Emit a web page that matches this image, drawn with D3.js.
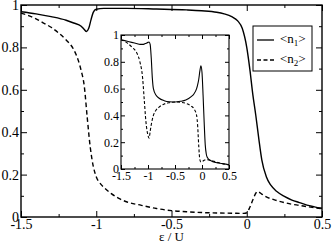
<!DOCTYPE html>
<html><head><meta charset="utf-8">
<script src="https://cdn.jsdelivr.net/npm/d3@7"></script>
<style>body{margin:0;background:#fff}svg{display:block}text{font-family:"Liberation Serif","Times New Roman",serif}</style>
</head><body><svg id="c" width="332" height="244"></svg>
<script>
// ---------- main plot data ----------
const mainEpsN1 = [-1.5,-1.4,-1.3,-1.2,-1.15,-1.1,-1.08,-1.065,-1.05,-1.035,-1.02,-1.0,-0.95,-0.8,-0.6,-0.4,-0.3,-0.2,-0.15,-0.1,-0.06,-0.03,0.0,0.02,0.04,0.06,0.08,0.1,0.13,0.16,0.2,0.25,0.3,0.35,0.4,0.45,0.5];
const mainN1 = [0.968,0.958,0.945,0.928,0.915,0.9,0.885,0.875,0.89,0.93,0.965,0.98,0.984,0.984,0.981,0.977,0.973,0.966,0.958,0.945,0.925,0.89,0.8,0.7,0.58,0.48,0.37,0.27,0.19,0.15,0.12,0.097,0.08,0.068,0.056,0.048,0.041];
const mainEpsN2 = [-1.5,-1.45,-1.4,-1.35,-1.3,-1.25,-1.2,-1.15,-1.12,-1.1,-1.08,-1.06,-1.04,-1.02,-1.0,-0.97,-0.95,-0.9,-0.85,-0.8,-0.7,-0.6,-0.5,-0.4,-0.3,-0.2,-0.1,-0.02,0.0,0.02,0.04,0.06,0.07,0.08,0.1,0.13,0.18,0.25,0.3,0.35,0.4,0.45,0.5];
const mainN2 = [0.962,0.95,0.935,0.915,0.895,0.868,0.835,0.79,0.74,0.69,0.62,0.47,0.33,0.24,0.19,0.155,0.14,0.11,0.088,0.072,0.055,0.04,0.03,0.025,0.021,0.019,0.018,0.017,0.02,0.045,0.08,0.112,0.12,0.118,0.108,0.095,0.082,0.068,0.06,0.055,0.049,0.044,0.039];

// ---------- inset data ----------
const insetEpsN1 = [-1.5,-1.4,-1.3,-1.2,-1.15,-1.1,-1.07,-1.04,-1.0,-0.98,-0.96,-0.94,-0.92,-0.9,-0.85,-0.8,-0.7,-0.6,-0.5,-0.4,-0.3,-0.2,-0.15,-0.1,-0.08,-0.06,-0.04,-0.02,0.0,0.02,0.04,0.06,0.08,0.1,0.15,0.2,0.3,0.4,0.5];
const insetN1 = [0.965,0.955,0.945,0.935,0.93,0.93,0.932,0.937,0.945,0.948,0.93,0.83,0.68,0.6,0.55,0.53,0.51,0.502,0.5,0.505,0.515,0.54,0.56,0.6,0.63,0.67,0.73,0.77,0.72,0.55,0.35,0.18,0.11,0.085,0.065,0.055,0.045,0.038,0.032];
const insetEpsN2 = [-1.5,-1.4,-1.3,-1.2,-1.15,-1.1,-1.07,-1.04,-1.0,-0.98,-0.96,-0.94,-0.92,-0.9,-0.85,-0.8,-0.7,-0.6,-0.5,-0.4,-0.3,-0.2,-0.15,-0.1,-0.08,-0.06,-0.04,-0.02,0.0,0.04,0.08,0.12,0.2,0.3,0.4,0.5];
const insetN2 = [0.965,0.945,0.91,0.86,0.8,0.68,0.52,0.36,0.25,0.23,0.28,0.33,0.37,0.4,0.44,0.46,0.485,0.495,0.5,0.498,0.49,0.47,0.45,0.4,0.32,0.17,0.07,0.052,0.055,0.065,0.07,0.068,0.06,0.048,0.038,0.03];

// ---------- ticks / labels ----------
const xMajor = [-1.5,-1,-0.5,0,0.5];
const xMinor = [-1.25,-0.75,-0.25,0.25];
const yMajor = [0,0.2,0.4,0.6,0.8,1];
const yMinor = [0.1,0.3,0.5,0.7,0.9];
const legendLabels = ["n1","n2"];
const xTitle = "ε / U";

const SERIF = '"Liberation Serif","Times New Roman",serif';
const svg = d3.select("#c");
const fmt = d => String(d);

function panel(g, box, o) {
  const x = d3.scaleLinear().domain([-1.5,0.5]).range([box.x0, box.x1]);
  const y = d3.scaleLinear().domain([0,1]).range([box.y1, box.y0]);
  g.append("rect").attr("x",box.x0).attr("y",box.y0)
    .attr("width",box.x1-box.x0).attr("height",box.y1-box.y0)
    .attr("fill","#fff").attr("stroke","none");

  const line = d3.line().x(d=>x(d[0])).y(d=>y(d[1])).curve(d3.curveMonotoneX);
  g.append("path").datum(o.e1.map((e,i)=>[e,o.n1[i]]))
    .attr("d",line).attr("fill","none").attr("stroke","#000").attr("stroke-width",o.lw);
  g.append("path").datum(o.e2.map((e,i)=>[e,o.n2[i]]))
    .attr("d",line).attr("fill","none").attr("stroke","#000").attr("stroke-width",o.lw)
    .attr("stroke-dasharray",o.dash);

  const style = sel => {
    sel.attr("font-family",SERIF).attr("font-size",o.fs);
    sel.select(".domain").remove();
    sel.selectAll("line").attr("stroke","#000").attr("stroke-width",1);
    sel.selectAll("text").style("font-family",SERIF)
      .style("font-size",o.fs+"px").attr("fill","#000");
  };
  const T = o.tick, t = o.tick/2;
  g.append("g").attr("transform",`translate(0,${box.y1})`)
    .call(d3.axisBottom(x).tickValues(xMajor).tickSize(-T).tickPadding(o.pad).tickFormat(fmt)).call(style);
  g.append("g").attr("transform",`translate(0,${box.y1})`)
    .call(d3.axisBottom(x).tickValues(xMinor).tickSize(-t).tickFormat("")).call(style);
  g.append("g").attr("transform",`translate(0,${box.y0})`)
    .call(d3.axisTop(x).tickValues(xMajor).tickSize(-T).tickFormat("")).call(style);
  g.append("g").attr("transform",`translate(0,${box.y0})`)
    .call(d3.axisTop(x).tickValues(xMinor).tickSize(-t).tickFormat("")).call(style);
  g.append("g").attr("transform",`translate(${box.x0},0)`)
    .call(d3.axisLeft(y).tickValues(yMajor).tickSize(-T).tickPadding(o.pad).tickFormat(fmt)).call(style);
  g.append("g").attr("transform",`translate(${box.x0},0)`)
    .call(d3.axisLeft(y).tickValues(yMinor).tickSize(-t).tickFormat("")).call(style);
  g.append("g").attr("transform",`translate(${box.x1},0)`)
    .call(d3.axisRight(y).tickValues(yMajor).tickSize(-T).tickFormat("")).call(style);
  g.append("g").attr("transform",`translate(${box.x1},0)`)
    .call(d3.axisRight(y).tickValues(yMinor).tickSize(-t).tickFormat("")).call(style);

  g.append("rect").attr("x",box.x0).attr("y",box.y0)
    .attr("width",box.x1-box.x0).attr("height",box.y1-box.y0)
    .attr("fill","none").attr("stroke","#000").attr("stroke-width",o.fw);
  return {x,y};
}

const mainBox = {x0:21, x1:322, y0:5, y1:217};
const gm = svg.append("g");
panel(gm, mainBox, {e1:mainEpsN1,n1:mainN1,e2:mainEpsN2,n2:mainN2,lw:1.4,dash:"4.5,3",tick:6,pad:2,fs:14,fw:1.4});

svg.append("text").attr("x",(mainBox.x0+mainBox.x1)/2).attr("y",241)
  .attr("text-anchor","middle").style("font-family",SERIF)
  .style("font-size","13px").text(xTitle);

const insetBox = {x0:121, x1:229, y0:35, y1:169};
const gi = svg.append("g");
panel(gi, insetBox, {e1:insetEpsN1,n1:insetN1,e2:insetEpsN2,n2:insetN2,lw:1.1,dash:"3,2",tick:4,pad:2,fs:12,fw:1.1});

const lg = svg.append("g");
const lb = {x:253, y:26, w:59, h:45};
lg.append("rect").attr("x",lb.x).attr("y",lb.y).attr("width",lb.w).attr("height",lb.h)
  .attr("fill","#fff").attr("stroke","#000").attr("stroke-width",1);
legendLabels.forEach((lab,i)=>{
  const yy = lb.y + 14 + i*20;
  lg.append("line").attr("x1",lb.x+4).attr("x2",lb.x+21).attr("y1",yy).attr("y2",yy)
    .attr("stroke","#000").attr("stroke-width",1.3)
    .attr("stroke-dasharray", i===1 ? "4,2.5" : null);
  const t = lg.append("text").attr("x",lb.x+27).attr("y",yy+3)
    .style("font-family",SERIF).style("font-size","13px");
  t.append("tspan").text("<" + lab[0]);
  t.append("tspan").style("font-size","9px").attr("dy",3).text(lab.slice(1));
  t.append("tspan").attr("dy",-3).text(">");
});
</script></body></html>
